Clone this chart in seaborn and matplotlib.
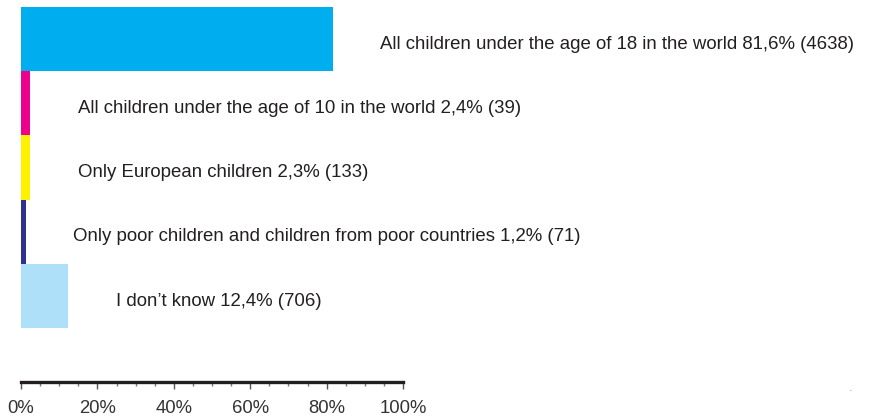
import matplotlib
matplotlib.use("Agg")
import matplotlib.pyplot as plt
import seaborn as sns
import pandas as pd
from matplotlib.ticker import MultipleLocator, PercentFormatter

categories = [
    "All children under the age of 18 in the world",
    "All children under the age of 10 in the world",
    "Only European children",
    "Only poor children and children from poor countries",
    "I don\u2019t know",
]
shares = [81.6, 2.4, 2.3, 1.2, 12.4]
counts = [4638, 39, 133, 71, 706]
colors = ["#00AEEF", "#EC008C", "#FFF200", "#2E3192", "#AEE0FA"]

df = pd.DataFrame({"answer": categories, "share": shares})

sns.set_style("white")
plt.rcParams["font.family"] = ["Liberation Sans", "DejaVu Sans"]

fig = plt.figure(figsize=(8.89, 4.17), dpi=100)
ax = fig.add_axes([21 / 889, 35 / 417, 382 / 889, 375 / 417])

sns.barplot(data=df, x="share", y="answer", hue="answer", palette=colors,
            width=1.0, legend=False, ax=ax, saturation=1, linewidth=0)

ink = "#231F20"
for i, (cat, val, n) in enumerate(zip(categories, shares, counts)):
    txt = f"{cat} {val:.1f}%".replace(".", ",") + f" ({n})"
    ax.text(val + 12.5, i + 0.08, txt, va="center", ha="left", fontsize=13.4,
            color=ink, clip_on=False)

ax.set_xlim(0, 100)
ax.set_ylim(5.34, -0.5)
ax.set_xlabel("")
ax.set_ylabel("")
ax.set_yticks([])
ax.xaxis.set_major_locator(MultipleLocator(20))
ax.xaxis.set_minor_locator(MultipleLocator(5))
ax.xaxis.set_major_formatter(PercentFormatter(decimals=0))
ax.tick_params(axis="x", which="major", length=5, width=1, color="#555555",
               labelsize=13.3, labelcolor="#333333", pad=8, bottom=True)
ax.tick_params(axis="x", which="minor", length=3, width=1, color="#777777",
               bottom=True)
for side in ["top", "right", "left"]:
    ax.spines[side].set_visible(False)
ax.spines["bottom"].set_linewidth(2.4)
ax.spines["bottom"].set_color(ink)

fig.text(851 / 889, 1 - 391 / 417, "\u00b7", fontsize=8, color="#888888",
         ha="center", va="center")

fig.savefig("out.png", dpi=100)
